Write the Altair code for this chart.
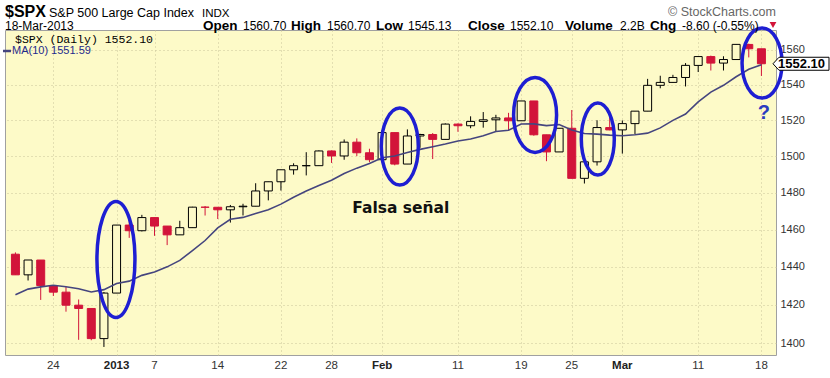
import altair as alt
import pandas as pd

# ---------------- data ----------------
dates = ["Dec 19", "Dec 20", "Dec 21", "Dec 24", "Dec 26", "Dec 27", "Dec 28", "Dec 31",
         "Jan 2", "Jan 3", "Jan 4", "Jan 7", "Jan 8", "Jan 9", "Jan 10", "Jan 11",
         "Jan 14", "Jan 15", "Jan 16", "Jan 17", "Jan 18", "Jan 22", "Jan 23", "Jan 24",
         "Jan 25", "Jan 28", "Jan 29", "Jan 30", "Jan 31", "Feb 1", "Feb 4", "Feb 5",
         "Feb 6", "Feb 7", "Feb 8", "Feb 11", "Feb 12", "Feb 13", "Feb 14", "Feb 15",
         "Feb 19", "Feb 20", "Feb 21", "Feb 22", "Feb 25", "Feb 26", "Feb 27", "Feb 28",
         "Mar 1", "Mar 4", "Mar 5", "Mar 6", "Mar 7", "Mar 8", "Mar 11", "Mar 12",
         "Mar 13", "Mar 14", "Mar 15", "Mar 18"]

opens = [1446.79, 1435.81, 1443.67, 1430.15, 1426.66, 1419.83, 1418.10, 1402.43,
         1426.19, 1462.42, 1459.37, 1466.47, 1461.89, 1457.15, 1461.02, 1472.12,
         1472.05, 1470.67, 1472.33, 1472.63, 1480.95, 1485.98, 1492.56, 1494.81,
         1494.82, 1502.96, 1500.18, 1507.84, 1501.96, 1498.11, 1513.17, 1495.71,
         1511.29, 1512.12, 1509.39, 1517.93, 1517.01, 1519.43, 1520.33, 1521.38,
         1519.79, 1530.94, 1511.95, 1502.42, 1515.60, 1487.85, 1496.94, 1515.99,
         1514.68, 1518.20, 1525.20, 1539.79, 1541.46, 1544.26, 1551.15, 1556.22,
         1552.48, 1554.52, 1563.21, 1560.70]
highs = [1447.75, 1443.70, 1443.67, 1430.15, 1429.42, 1422.80, 1418.10, 1426.74,
         1462.43, 1465.47, 1467.94, 1466.47, 1461.89, 1464.73, 1472.30, 1472.75,
         1472.05, 1473.31, 1473.96, 1485.16, 1485.98, 1492.56, 1496.13, 1502.27,
         1503.26, 1503.23, 1509.35, 1509.94, 1504.19, 1514.41, 1513.17, 1514.96,
         1512.53, 1512.90, 1518.31, 1518.31, 1522.29, 1524.69, 1523.14, 1524.24,
         1530.94, 1530.94, 1511.95, 1515.64, 1525.84, 1498.99, 1520.08, 1525.34,
         1519.99, 1525.27, 1543.47, 1545.25, 1545.78, 1552.48, 1556.27, 1556.77,
         1556.39, 1563.32, 1563.62, 1560.70]
lows = [1435.80, 1432.82, 1422.58, 1424.66, 1416.43, 1401.80, 1401.58, 1398.11,
        1426.19, 1455.53, 1458.99, 1456.62, 1451.64, 1457.15, 1461.02, 1467.58,
        1465.69, 1463.76, 1467.60, 1472.63, 1475.81, 1481.16, 1489.90, 1489.46,
        1494.82, 1496.33, 1498.09, 1500.11, 1496.76, 1498.11, 1495.02, 1495.71,
        1504.71, 1498.49, 1509.39, 1513.61, 1515.61, 1515.93, 1514.02, 1514.14,
        1519.79, 1511.41, 1497.29, 1502.42, 1487.85, 1485.01, 1494.88, 1514.46,
        1501.48, 1512.29, 1525.20, 1538.11, 1541.46, 1539.14, 1547.36, 1548.24,
        1548.25, 1554.52, 1555.74, 1545.13]
closes = [1435.81, 1443.69, 1430.15, 1426.66, 1419.83, 1418.10, 1402.43, 1426.19,
          1462.42, 1459.37, 1466.47, 1461.89, 1457.15, 1461.02, 1472.12, 1472.05,
          1470.68, 1472.34, 1472.63, 1480.94, 1485.98, 1492.56, 1494.81, 1494.82,
          1502.96, 1500.18, 1507.84, 1501.96, 1498.11, 1513.17, 1495.71, 1511.29,
          1512.12, 1509.39, 1517.93, 1517.01, 1519.43, 1520.33, 1521.38, 1519.79,
          1530.94, 1511.95, 1502.42, 1515.60, 1487.85, 1496.94, 1515.99, 1514.68,
          1518.20, 1525.20, 1539.79, 1541.46, 1544.26, 1551.18, 1556.22, 1552.48,
          1554.52, 1563.23, 1560.70, 1552.10]
ma10 = [1425.29, 1428.26, 1429.47, 1430.28, 1429.48, 1428.44, 1426.74, 1428.00,
        1431.21, 1432.47, 1435.53, 1437.35, 1440.05, 1443.49, 1448.72, 1454.11,
        1460.94, 1465.55, 1466.57, 1468.73, 1470.68, 1473.75, 1477.51, 1480.89,
        1483.98, 1486.79, 1490.51, 1493.47, 1496.02, 1499.24, 1500.21, 1502.09,
        1503.82, 1505.27, 1506.77, 1508.45, 1509.61, 1511.45, 1513.78, 1514.44,
        1517.96, 1518.03, 1517.06, 1517.68, 1514.67, 1512.66, 1512.32, 1511.75,
        1511.44, 1511.98, 1512.86, 1515.81, 1520.00, 1523.56, 1530.39, 1535.95,
        1539.80, 1544.65, 1548.90, 1551.59]

x_tick_index = [3, 8, 11, 16, 21, 25, 29, 35, 40, 44, 48, 54, 59]
x_tick_labels = ["24", "2013", "7", "14", "22", "28", "Feb", "11", "19", "25", "Mar", "11", "18"]
x_tick_bold = [False, True, False, False, False, False, True, False, False, False, True, False, False]
x_label_shift = [-2, -2, 0, 0, 0, 1, 1, 0, 1, 3, 8, 4, 4]
y_ticks = [1400, 1420, 1440, 1460, 1480, 1500, 1520, 1540, 1560]

last_close = 1552.10
last_ma = 1551.59

# annotations: ellipses (centre day index, centre price), text notes
ell_index = [7.95, 30.4, 41.1, 46.06, 59.05]
ell_price = [1444.0, 1505.4, 1523.1, 1509.6, 1552.5]
ell_w = [38, 37, 43, 33, 40]
ell_h = [116, 77, 75, 72, 70]

note_text = ["Falsa señal"]
note_index = [30.48]
note_price = [1471.4]
q_index = [59.2]
q_price = [1524.4]

# ---------------- layout ----------------
W, H = 771, 325
PAD = {"left": 5, "top": 30, "right": 54, "bottom": 23}
BG = "#FDFAC8"
RED = "#D2143A"
MA_COL = "#45457E"
BLUE = "#1E1ED2"
GRID = "#C8C59A"
SANS = "Liberation Sans"

df = pd.DataFrame({"i": range(len(dates)), "date": dates, "open": opens, "high": highs,
                   "low": lows, "close": closes, "ma": ma10})
df["dir"] = ["down" if c < o else "up" for o, c in zip(opens, closes)]

xs = alt.Scale(domain=[-0.429, 59.758], nice=False, zero=False)
ys = alt.Scale(type="log", domain=[1393.97, 1571.55], nice=False, zero=False)

X = alt.X("i:Q", scale=xs,
          axis=alt.Axis(values=x_tick_index, grid=True, labels=False, ticks=False, domain=False,
                        gridDash=[1, 3], gridColor=GRID, gridOpacity=1, title=None))
Y = alt.Y("low:Q", scale=ys,
          axis=alt.Axis(orient="right", values=y_ticks, format="d", grid=True, gridDash=[1, 3],
                        gridColor=GRID, gridOpacity=1, ticks=False, tickSize=0, domain=False,
                        labelPadding=4, labelFont=SANS, labelFontSize=11, labelColor="#333333",
                        title=None))

color_scale = alt.Scale(domain=["up", "down"], range=["#000000", RED])
fill_scale = alt.Scale(domain=["up", "down"], range=[BG, RED])

base = alt.Chart(df)

wicks = base.mark_rule(strokeWidth=1).encode(
    x=X, y=Y, y2="high:Q",
    color=alt.Color("dir:N", scale=color_scale, legend=None))

bodies = base.mark_bar(size=8, strokeWidth=1).encode(
    x="i:Q",
    y=alt.Y("open:Q", scale=ys), y2="close:Q",
    fill=alt.Fill("dir:N", scale=fill_scale, legend=None),
    stroke=alt.Stroke("dir:N", scale=color_scale, legend=None))

ma_line = base.mark_line(color=MA_COL, strokeWidth=1.6).encode(
    x="i:Q", y=alt.Y("ma:Q", scale=ys))

# ellipses as custom symbol paths
def ellipse_path(w, h):
    a = w / h
    k = 0.5523
    return (f"M {a:.4f},0 C {a:.4f},{k} {a*k:.4f},1 0,1 C {-a*k:.4f},1 {-a:.4f},{k} {-a:.4f},0 "
            f"C {-a:.4f},{-k} {-a*k:.4f},-1 0,-1 C {a*k:.4f},-1 {a:.4f},{-k} {a:.4f},0 Z")

edf = pd.DataFrame({"i": ell_index, "p": ell_price,
                    "path": [ellipse_path(w, h) for w, h in zip(ell_w, ell_h)],
                    "sz": [h * h for h in ell_h]})
ellipses = alt.Chart(edf).mark_point(filled=False, strokeWidth=3.5, color=BLUE, opacity=1).encode(
    x="i:Q", y=alt.Y("p:Q", scale=ys),
    shape=alt.Shape("path:N", scale=None), size=alt.Size("sz:Q", scale=None))

note = alt.Chart(pd.DataFrame({"i": note_index, "p": note_price, "t": note_text})).mark_text(
    font="DejaVu Sans", fontWeight="bold", fontSize=15.5, color="#111111", align="center",
    baseline="middle").encode(x="i:Q", y=alt.Y("p:Q", scale=ys), text="t:N")

qmark = alt.Chart(pd.DataFrame({"i": q_index, "p": q_price, "t": ["?"]})).mark_text(
    font=SANS, fontWeight="bold", fontSize=20, color="#2A3CC0", align="center",
    baseline="middle").encode(x="i:Q", y=alt.Y("p:Q", scale=ys), text="t:N")

# x tick labels
tdf = pd.DataFrame({"i": x_tick_index, "t": x_tick_labels, "b": x_tick_bold, "s": x_label_shift})
xl_norm = alt.Chart(tdf[~tdf["b"]]).mark_text(font=SANS, fontSize=11.5, color="#333333",
                                              baseline="middle", align="center").encode(
    x="i:Q", xOffset=alt.XOffset("s:Q", scale=None), y=alt.value(H + 11), text="t:N")
xl_bold = alt.Chart(tdf[tdf["b"]]).mark_text(font=SANS, fontSize=11.5, fontWeight="bold",
                                             color="#222222", baseline="middle", align="center").encode(
    x="i:Q", xOffset=alt.XOffset("s:Q", scale=None), y=alt.value(H + 11), text="t:N")

# last-price tag on the right axis
box_path = "M -1,0 L -0.786,-0.232 L 1,-0.232 L 1,0.232 L -0.786,0.232 Z"
tag_df = pd.DataFrame({"p": [last_close], "t": [f"{last_close:.2f}"], "path": [box_path]})
tag_box = alt.Chart(tag_df).mark_point(filled=True, fill="white", stroke="black", strokeWidth=1,
                                       opacity=1, size=56 * 56).encode(
    x=alt.value(W + 25), y=alt.Y("p:Q", scale=ys), shape=alt.Shape("path:N", scale=None))
tag_text = alt.Chart(tag_df).mark_text(font=SANS, fontWeight="bold", fontSize=13, align="left",
                                       baseline="middle", color="black").encode(
    x=alt.value(W + 2), y=alt.Y("p:Q", scale=ys), text="t:N")


def txt(s, x, y, size=12, weight="normal", color="#000000", font=SANS, align="left",
        baseline="alphabetic"):
    return alt.Chart(pd.DataFrame({"t": [s]})).mark_text(
        font=font, fontSize=size, fontWeight=weight, color=color, align=align,
        baseline=baseline).encode(x=alt.value(x), y=alt.value(y), text="t:N")

ox, oy = PAD["left"], PAD["top"]
L1, L2 = 16.5, 29.5
header = [
    txt("$SPX", 5 - ox, L1 - oy, size=16, weight="bold"),
    txt("S&P 500 Large Cap Index", 49 - ox, L1 - oy, size=12.5),
    txt("INDX", 202 - ox, L1 - oy, size=11.5),
    txt("\u00a9 StockCharts.com", 668 - ox, 16 - oy, size=12.5, color="#666666"),
    txt("18-Mar-2013", 5 - ox, L2 - oy, size=12),
    txt("Open", 203 - ox, L2 - oy, size=13.5, weight="bold"),
    txt("1560.70", 243 - ox, L2 - oy, size=12),
    txt("High", 291 - ox, L2 - oy, size=13.5, weight="bold"),
    txt("1560.70", 327 - ox, L2 - oy, size=12),
    txt("Low", 376 - ox, L2 - oy, size=13.5, weight="bold"),
    txt("1545.13", 408 - ox, L2 - oy, size=12),
    txt("Close", 468 - ox, L2 - oy, size=13.5, weight="bold"),
    txt("1552.10", 510 - ox, L2 - oy, size=12),
    txt("Volume", 565 - ox, L2 - oy, size=13.5, weight="bold"),
    txt("2.2B", 620 - ox, L2 - oy, size=12),
    txt("Chg", 650 - ox, L2 - oy, size=13.5, weight="bold"),
    txt("-8.60 (-0.55%)", 682 - ox, L2 - oy, size=12),
    txt(f"$SPX (Daily) {last_close:.2f}", 15 - ox, 39.5 - oy, size=11.5, font="Liberation Mono",
        baseline="middle"),
    txt(f"MA(10) {last_ma:.2f}", 12 - ox, 51 - oy, size=11, color="#1F2A8C", baseline="middle"),
]

tri = alt.Chart(pd.DataFrame({"t": [1]})).mark_point(
    shape="triangle-down", filled=True, color=RED, size=45, opacity=1).encode(
    x=alt.value(773 - ox), y=alt.value(25 - oy))
ma_key = alt.Chart(pd.DataFrame({"t": [1]})).mark_rule(color=MA_COL, strokeWidth=2.5).encode(
    x=alt.value(3 - ox), x2=alt.value(11 - ox), y=alt.value(51 - oy))

chart = alt.layer(
    wicks, bodies, ma_line, ellipses, note, qmark, xl_norm, xl_bold, tag_box, tag_text,
    *header, tri, ma_key
).properties(
    width=W, height=H, autosize=alt.AutoSizeParams(type="none"), padding=PAD, background="white"
).configure_view(
    fill=BG, stroke="#A0A0A0", strokeWidth=1
)

chart.save("out.html", embed_options={"renderer": "svg", "actions": False})
